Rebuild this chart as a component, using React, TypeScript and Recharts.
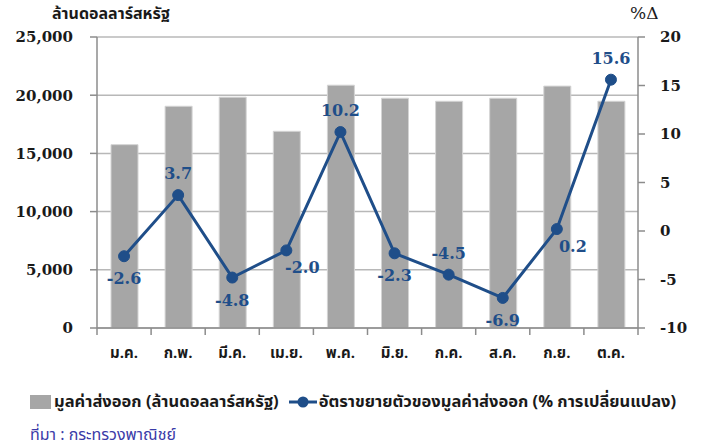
import React from 'react'
import {
  Bar,
  CartesianGrid,
  ComposedChart,
  LabelList,
  Line,
  XAxis,
  YAxis,
} from 'recharts'

// Monthly export value (bars, left axis) and growth rate (line, right axis).

const months = ['ม.ค.', 'ก.พ.', 'มี.ค.', 'เม.ย.', 'พ.ค.', 'มิ.ย.', 'ก.ค.', 'ส.ค.', 'ก.ย.', 'ต.ค.']
const exportValue = [15750, 19050, 19830, 16900, 20860, 19740, 19480, 19740, 20780, 19480]
const growthRate = [-2.6, 3.7, -4.8, -2.0, 10.2, -2.3, -4.5, -6.9, 0.2, 15.6]
const labelSide = ['below', 'above', 'below', 'right', 'above', 'below', 'above', 'below', 'right', 'above']
const leftTicks = [0, 5000, 10000, 15000, 20000, 25000]
const rightTicks = [-10, -5, 0, 5, 10, 15, 20]

const BAR_GRAY = '#A6A6A6'
const LINE_BLUE = '#1F4E89'
const AXIS_GRAY = '#8C8C8C'
const SERIF = '"DejaVu Serif", serif'
const THAI = '"Noto Sans Thai", "Noto Sans", "DejaVu Sans", sans-serif'

const WIDTH = 703
const HEIGHT = 380
const LEFT_W = 97
const RIGHT_W = 65

const data = months.map((m, i) => ({ month: m, value: exportValue[i], growth: growthRate[i] }))

const bandWidth = (WIDTH - LEFT_W - RIGHT_W) / months.length

function MonthTick(props: any) {
  const { x, y, payload, index } = props
  const half = bandWidth / 2
  return (
    <g>
      <line x1={x - half} x2={x - half} y1={y - 8} y2={y - 1} stroke={AXIS_GRAY} strokeWidth={1.5} />
      {index === months.length - 1 && (
        <line x1={x + half} x2={x + half} y1={y - 8} y2={y - 1} stroke={AXIS_GRAY} strokeWidth={1.5} />
      )}
      <text x={x} y={y + 22} textAnchor="middle" fontFamily={THAI} fontWeight={700} fontSize={15} fill="#1a1a1a">
        {payload.value}
      </text>
    </g>
  )
}

function GrowthLabel(props: any) {
  const { x, y, value, index } = props
  const side = labelSide[index]
  let dx = 0
  let dy = -16
  if (side === 'below') dy = 28
  if (side === 'right') {
    dx = 16
    dy = 23
  }
  const text = value < 0 ? `-${Math.abs(value).toFixed(1)}` : value.toFixed(1)
  return (
    <text x={x + dx} y={y + dy} textAnchor="middle" fontFamily={SERIF} fontWeight={700} fontSize={16} fill={LINE_BLUE}>
      {text}
    </text>
  )
}

export default function App() {
  return (
    <div style={{ position: 'absolute', left: 0, top: 0, width: WIDTH, height: 448, background: '#fff', overflow: 'hidden' }}>
      <div
        style={{
          position: 'absolute',
          left: 52,
          top: 2,
          fontFamily: THAI,
          fontWeight: 700,
          fontSize: 16,
          color: '#1a1a1a',
        }}
      >
        ล้านดอลลาร์สหรัฐ
      </div>
      <div
        style={{
          position: 'absolute',
          left: 630,
          top: 3,
          fontFamily: SERIF,
          fontSize: 17,
          color: '#1a1a1a',
        }}
      >
        %Δ
      </div>
      <ComposedChart
        width={WIDTH}
        height={HEIGHT}
        data={data}
        margin={{ top: 37, right: 0, left: 0, bottom: 0 }}
      >
        <CartesianGrid vertical={false} stroke="#B8B8B8" strokeWidth={1.5} yAxisId="left" />
        <XAxis
          dataKey="month"
          height={52}
          stroke={AXIS_GRAY}
          strokeWidth={1.5}
          tickLine={false}
          tick={<MonthTick />}
          interval={0}
        />
        <YAxis
          yAxisId="left"
          orientation="left"
          width={LEFT_W}
          domain={[0, 25000]}
          ticks={leftTicks}
          stroke={AXIS_GRAY}
          strokeWidth={1.5}
          tickSize={7}
          tickMargin={17}
          tickFormatter={(v) => v.toLocaleString('en-US')}
          tick={{ fontFamily: SERIF, fontWeight: 700, fontSize: 15, fill: '#1a1a1a' }}
        />
        <YAxis
          yAxisId="right"
          orientation="right"
          width={RIGHT_W}
          domain={[-10, 20]}
          ticks={rightTicks}
          stroke={AXIS_GRAY}
          strokeWidth={1.5}
          tickSize={7}
          tickMargin={15}
          tickFormatter={(v) => `${v}`}
          tick={{ fontFamily: SERIF, fontWeight: 700, fontSize: 15, fill: '#1a1a1a', textAnchor: 'start' }}
        />
        <Bar
          yAxisId="left"
          dataKey="value"
          fill={BAR_GRAY}
          stroke="#D4D4D4"
          strokeWidth={1}
          barSize={27}
          isAnimationActive={false}
        />
        <Line
          yAxisId="right"
          dataKey="growth"
          stroke={LINE_BLUE}
          strokeWidth={3}
          dot={{ r: 5.5, fill: LINE_BLUE, stroke: LINE_BLUE, strokeWidth: 1 }}
          activeDot={false}
          isAnimationActive={false}
        >
          <LabelList dataKey="growth" content={<GrowthLabel />} />
        </Line>
      </ComposedChart>
      <div
        style={{
          position: 'absolute',
          left: 30,
          top: 389,
          display: 'flex',
          alignItems: 'center',
          fontFamily: THAI,
          fontWeight: 700,
          fontSize: 16.5,
          color: '#1a1a1a',
        }}
      >
        <span style={{ display: 'inline-block', width: 21, height: 14, background: BAR_GRAY, marginRight: 3 }} />
        <span>มูลค่าส่งออก (ล้านดอลลาร์สหรัฐ)</span>
        <svg width={28} height={14} style={{ marginLeft: 10, marginRight: 2 }}>
          <line x1={0} x2={28} y1={7} y2={7} stroke={LINE_BLUE} strokeWidth={3} />
          <circle cx={14} cy={7} r={5.5} fill={LINE_BLUE} />
        </svg>
        <span>อัตราขยายตัวของมูลค่าส่งออก (% การเปลี่ยนแปลง)</span>
      </div>
      <div
        style={{
          position: 'absolute',
          left: 30,
          top: 425,
          fontFamily: THAI,
          fontSize: 16,
          lineHeight: '20px',
          color: '#3A3AA8',
        }}
      >
        ที่มา : กระทรวงพาณิชย์
      </div>
    </div>
  )
}
